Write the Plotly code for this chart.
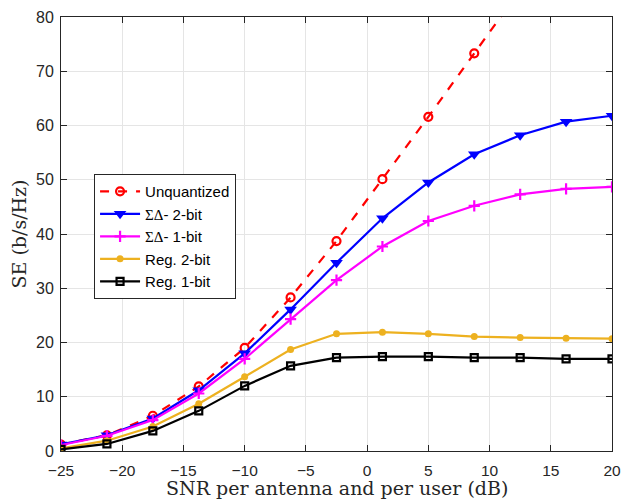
import plotly.graph_objects as go

snr = [-25, -21.25, -17.5, -13.75, -10, -6.25, -2.5, 1.25, 5, 8.75, 12.5, 16.25, 20]
unquantized = [1.2, 2.9, 6.5, 11.9, 19.0, 28.3, 38.7, 50.1, 61.6, 73.3, 85.0]
sd_2bit = [1.2, 2.9, 6.0, 11.2, 18.0, 26.1, 34.7, 42.9, 49.5, 54.7, 58.2, 60.7, 61.8]
sd_1bit = [1.1, 2.8, 5.7, 10.6, 17.0, 24.3, 31.5, 37.7, 42.4, 45.2, 47.3, 48.3, 48.7]
reg_2bit = [0.5, 1.9, 4.5, 8.7, 13.7, 18.7, 21.6, 21.9, 21.6, 21.1, 20.9, 20.8, 20.7]
reg_1bit = [0.3, 1.3, 3.7, 7.4, 12.0, 15.7, 17.2, 17.4, 17.4, 17.2, 17.2, 17.0, 17.0]

x_ticks = [-25, -20, -15, -10, -5, 0, 5, 10, 15, 20]
y_ticks = [0, 10, 20, 30, 40, 50, 60, 70, 80]

SIG = "<span style='font-family:Liberation Serif'>ΣΔ</span>"

fig = go.Figure()
fig.add_trace(go.Scatter(
    x=snr[:len(unquantized)], y=unquantized, name="Unquantized", mode="lines+markers",
    line=dict(color="#ff0000", width=2.2, dash="dash"),
    marker=dict(symbol="circle-open", size=8, color="#ff0000", line=dict(width=2.2, color="#ff0000"))))
fig.add_trace(go.Scatter(
    x=snr, y=sd_2bit, name=SIG + "- 2-bit", mode="lines+markers",
    line=dict(color="#0000ff", width=2.2),
    marker=dict(symbol="triangle-down", size=11, color="#0000ff")))
fig.add_trace(go.Scatter(
    x=snr, y=sd_1bit, name=SIG + "- 1-bit", mode="lines+markers",
    line=dict(color="#ff00ff", width=2.2),
    marker=dict(symbol="cross-thin", size=8, color="#ff00ff", line=dict(width=2.2, color="#ff00ff"))))
fig.add_trace(go.Scatter(
    x=snr, y=reg_2bit, name="Reg. 2-bit", mode="lines+markers",
    line=dict(color="#EDB120", width=2.2),
    marker=dict(symbol="circle", size=7, color="#EDB120")))
fig.add_trace(go.Scatter(
    x=snr, y=reg_1bit, name="Reg. 1-bit", mode="lines+markers",
    line=dict(color="#000000", width=2.2),
    marker=dict(symbol="square-open", size=7, color="#000000", line=dict(width=2.2, color="#000000"))))

fig.update_layout(
    width=622, height=502,
    margin=dict(l=61, r=10, t=17, b=51),
    paper_bgcolor="white", plot_bgcolor="white",
    font=dict(family="Liberation Sans", size=16, color="#262626"),
    showlegend=True,
    legend=dict(
        x=0.06, y=0.638, xanchor="left", yanchor="top",
        bgcolor="white", bordercolor="#262626", borderwidth=1,
        font=dict(family="Liberation Sans", size=15, color="#000000"),
        tracegroupgap=0, itemwidth=40),
    xaxis=dict(
        range=[-25, 20], tickmode="array", tickvals=x_ticks, automargin=False,
        ticks="inside", ticklen=6, tickcolor="#262626", ticklabelstandoff=5,
        tickfont=dict(size=15.5),
        showline=True, linecolor="#262626", linewidth=1, mirror="ticks",
        showgrid=True, gridcolor="#e5e5e5", gridwidth=1, zeroline=False),
    yaxis=dict(
        range=[0, 80], tickmode="array", tickvals=y_ticks, automargin=False,
        ticks="inside", ticklen=6, tickcolor="#262626", ticklabelstandoff=3,
        showline=True, linecolor="#262626", linewidth=1, mirror="ticks",
        showgrid=True, gridcolor="#e5e5e5", gridwidth=1, zeroline=False,
        title=dict(text="SE (b/s/Hz)",
                   font=dict(family="DejaVu Serif", size=19, color="#262626"), standoff=4)),
    annotations=[dict(
        text="SNR per antenna and per user (dB)", xref="paper", yref="paper",
        x=0.5, y=-0.086, xanchor="center", yanchor="middle", showarrow=False,
        font=dict(family="DejaVu Serif", size=19, color="#262626"))],
)

fig.write_html("out.html", config={"displayModeBar": False},
               post_script="document.body.style.margin='0';document.body.style.padding='0';")
